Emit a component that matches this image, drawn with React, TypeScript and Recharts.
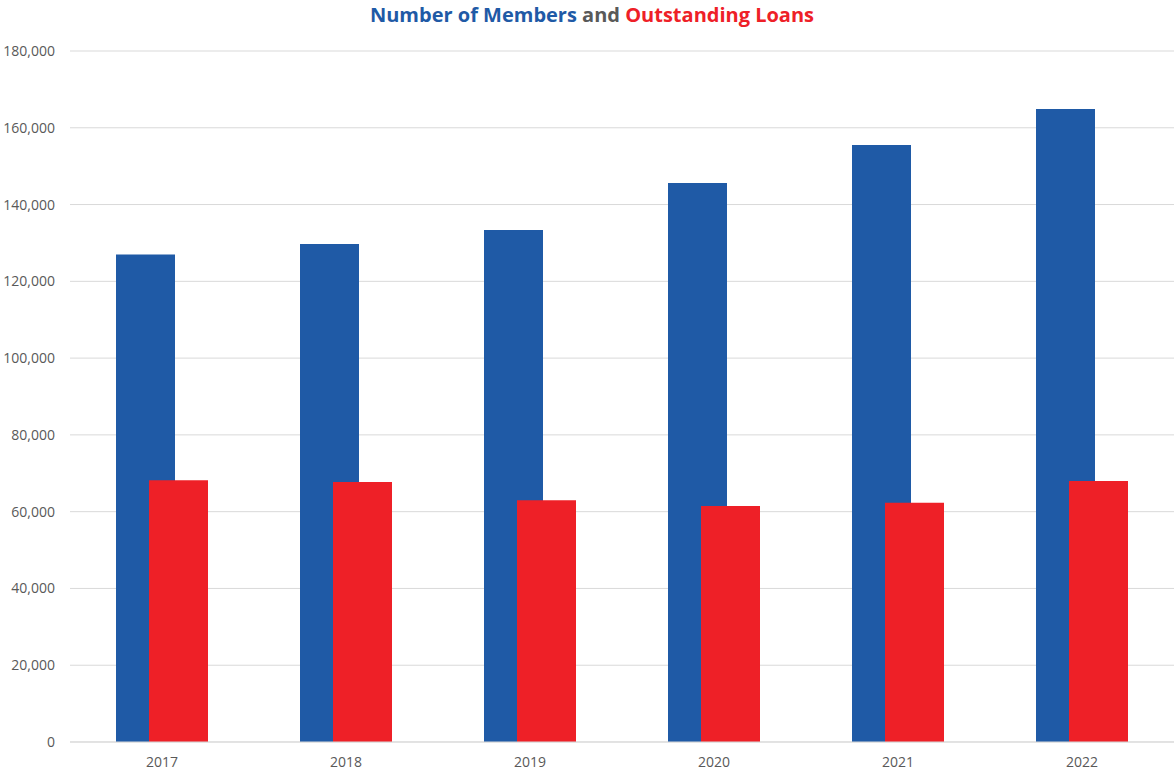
import React from "react";
import { BarChart, Bar, XAxis, YAxis, CartesianGrid } from "recharts";

const years = ["2017", "2018", "2019", "2020", "2021", "2022"];
const members = [127000, 129700, 133400, 145600, 155500, 164900];
const loans = [68200, 67700, 63000, 61500, 62300, 68000];
const yTicks = [0, 20000, 40000, 60000, 80000, 100000, 120000, 140000, 160000, 180000];

const data = years.map((y, i) => ({ year: y, members: members[i], loans: loans[i] }));

const BLUE = "#1F5AA6";
const RED = "#EE2027";
const GREY = "#595959";

export default function App() {
  return (
    <div style={{ position: "absolute", left: 0, top: 0, width: 1174, height: 773, background: "#fff" }}>
      <div
        style={{
          position: "absolute",
          left: 0,
          top: 2,
          width: 1184,
          textAlign: "center",
          fontFamily: "'Open Sans', sans-serif",
          fontWeight: 700,
          fontSize: 20,
          lineHeight: "26px",
        }}
      >
        <span style={{ color: BLUE }}>Number of Members</span>
        <span style={{ color: GREY }}> and </span>
        <span style={{ color: RED }}>Outstanding Loans</span>
      </div>
      <BarChart
        width={1174}
        height={773}
        data={data}
        margin={{ top: 51, right: 0, left: 0, bottom: 0 }}
        barSize={59}
        barGap={-26}
      >
        <CartesianGrid vertical={false} stroke="#D9D9D9" />
        <XAxis
          dataKey="year"
          height={31}
          tickLine={false}
          axisLine={{ stroke: "#D9D9D9" }}
          tickSize={6}
          tickMargin={9}
          tick={{ fill: GREY, fontSize: 14, fontFamily: "'Open Sans', sans-serif" }}
        />
        <YAxis
          width={70}
          domain={[0, 180000]}
          ticks={yTicks}
          tickLine={false}
          axisLine={false}
          tickSize={6}
          tickMargin={9}
          tickFormatter={(v: number) => v.toLocaleString("en-US")}
          tick={{ fill: GREY, fontSize: 14, fontFamily: "'Open Sans', sans-serif" }}
        />
        <Bar dataKey="members" fill={BLUE} isAnimationActive={false} />
        <Bar dataKey="loans" fill={RED} isAnimationActive={false} />
      </BarChart>
    </div>
  );
}
